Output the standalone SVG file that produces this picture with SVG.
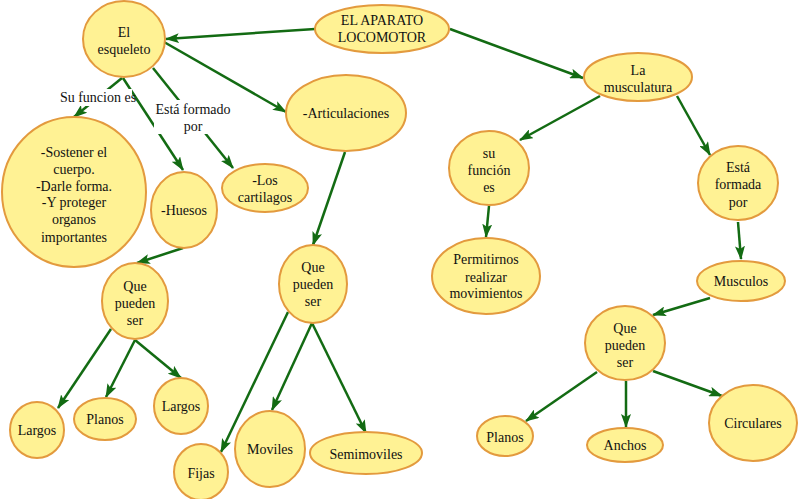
<svg xmlns="http://www.w3.org/2000/svg" width="798" height="499" viewBox="0 0 798 499">
<defs>
<style>
.n{fill:#FFF294;stroke:#E39A3E;stroke-width:2}
.t{font-family:'Liberation Serif','DejaVu Serif',serif;font-size:14px;fill:#111;text-anchor:middle}
.c line{stroke:#136B13;stroke-width:2.5}
.lb{fill:#fff}
</style>
<marker id="a" viewBox="0 0 14 10" refX="13" refY="5" markerWidth="14" markerHeight="10" markerUnits="userSpaceOnUse" orient="auto">
<path d="M0,0 L14,5 L0,10 L3,5 Z" fill="#136B13"/>
</marker>
</defs>
<rect width="798" height="499" fill="#fff"/>
<g id="connectors" class="c">
<line x1="315" y1="29" x2="166" y2="39" marker-end="url(#a)"/>
<line x1="450" y1="29" x2="583" y2="78" marker-end="url(#a)"/>
<line x1="164" y1="42" x2="286" y2="112" marker-end="url(#a)"/>
<line x1="122" y1="78" x2="74" y2="117" marker-end="url(#a)"/>
<line x1="123" y1="78" x2="183" y2="170" marker-end="url(#a)"/>
<line x1="153" y1="68" x2="233" y2="168" marker-end="url(#a)"/>
<line x1="345" y1="152" x2="313" y2="245" marker-end="url(#a)"/>
<line x1="183" y1="248" x2="137" y2="263" marker-end="url(#a)"/>
<line x1="111" y1="329" x2="58" y2="408" marker-end="url(#a)"/>
<line x1="135" y1="340" x2="106" y2="397" marker-end="url(#a)"/>
<line x1="135" y1="340" x2="181" y2="378" marker-end="url(#a)"/>
<line x1="288" y1="312" x2="221" y2="452" marker-end="url(#a)"/>
<line x1="312" y1="323" x2="272" y2="410" marker-end="url(#a)"/>
<line x1="312" y1="323" x2="366" y2="433" marker-end="url(#a)"/>
<line x1="600" y1="96" x2="520" y2="140" marker-end="url(#a)"/>
<line x1="677" y1="96" x2="710" y2="155" marker-end="url(#a)"/>
<line x1="489" y1="206" x2="486" y2="237" marker-end="url(#a)"/>
<line x1="738" y1="222" x2="741" y2="259" marker-end="url(#a)"/>
<line x1="710" y1="298" x2="653" y2="315" marker-end="url(#a)"/>
<line x1="597" y1="372" x2="526" y2="421" marker-end="url(#a)"/>
<line x1="626" y1="381" x2="626" y2="427" marker-end="url(#a)"/>
<line x1="653" y1="371" x2="722" y2="396" marker-end="url(#a)"/>
</g>
<g id="label-su-funcion">
<rect class="lb" x="58" y="89" width="74" height="17"/>
<text class="t" x="98" y="102">Su funcion es</text>
</g>
<g id="label-formado">
<rect class="lb" x="154" y="100" width="78" height="34"/>
<text class="t" x="193" y="114">Está formado</text>
<text class="t" x="193" y="131">por</text>
</g>
<g id="n-locomotor"><ellipse class="n" cx="382" cy="29" rx="67" ry="24"/><text class="t" x="382" y="25">EL APARATO</text><text class="t" x="382" y="42">LOCOMOTOR</text></g>
<g id="n-esqueleto"><ellipse class="n" cx="124" cy="39" rx="41" ry="38"/><text class="t" x="124" y="37">El</text><text class="t" x="124" y="54">esqueleto</text></g>
<g id="n-articulaciones"><ellipse class="n" cx="346" cy="113" rx="60" ry="38"/><text class="t" x="346" y="118">-Articulaciones</text></g>
<g id="n-sostener"><ellipse class="n" cx="74" cy="192" rx="72" ry="75"/><text class="t" x="74" y="157">-Sostener el</text><text class="t" x="74" y="174">cuerpo.</text><text class="t" x="74" y="191">-Darle forma.</text><text class="t" x="74" y="207">-Y proteger</text><text class="t" x="74" y="224">organos</text><text class="t" x="74" y="242">importantes</text></g>
<g id="n-huesos"><ellipse class="n" cx="184" cy="210" rx="33" ry="38"/><text class="t" x="184" y="215">-Huesos</text></g>
<g id="n-cartilagos"><ellipse class="n" cx="265" cy="188" rx="43" ry="24"/><text class="t" x="265" y="185">-Los</text><text class="t" x="265" y="202">cartilagos</text></g>
<g id="n-qps-left"><ellipse class="n" cx="135" cy="301" rx="33" ry="38"/><text class="t" x="135" y="291">Que</text><text class="t" x="135" y="308">pueden</text><text class="t" x="135" y="325">ser</text></g>
<g id="n-largos1"><ellipse class="n" cx="37" cy="430" rx="27" ry="28"/><text class="t" x="37" y="435">Largos</text></g>
<g id="n-planos1"><ellipse class="n" cx="105" cy="419" rx="31" ry="21"/><text class="t" x="105" y="424">Planos</text></g>
<g id="n-largos2"><ellipse class="n" cx="181" cy="406" rx="27" ry="28"/><text class="t" x="181" y="411">Largos</text></g>
<g id="n-qps-mid"><ellipse class="n" cx="313" cy="284" rx="34" ry="39"/><text class="t" x="313" y="272">Que</text><text class="t" x="313" y="289">pueden</text><text class="t" x="313" y="306">ser</text></g>
<g id="n-fijas"><ellipse class="n" cx="201" cy="472" rx="27" ry="28"/><text class="t" x="201" y="478">Fijas</text></g>
<g id="n-moviles"><ellipse class="n" cx="270" cy="449" rx="35" ry="38"/><text class="t" x="270" y="454">Moviles</text></g>
<g id="n-semimoviles"><ellipse class="n" cx="366" cy="453" rx="56" ry="21"/><text class="t" x="366" y="459">Semimoviles</text></g>
<g id="n-musculatura"><ellipse class="n" cx="638" cy="77" rx="54" ry="24"/><text class="t" x="638" y="75">La</text><text class="t" x="638" y="92">musculatura</text></g>
<g id="n-sufuncion"><ellipse class="n" cx="489" cy="168" rx="40" ry="37"/><text class="t" x="489" y="158">su</text><text class="t" x="489" y="175">función</text><text class="t" x="489" y="192">es</text></g>
<g id="n-formada"><ellipse class="n" cx="738" cy="183" rx="40" ry="37"/><text class="t" x="738" y="172">Está</text><text class="t" x="738" y="189">formada</text><text class="t" x="738" y="207">por</text></g>
<g id="n-permitirnos"><ellipse class="n" cx="486" cy="276" rx="54" ry="38"/><text class="t" x="486" y="264">Permitirnos</text><text class="t" x="486" y="282">realizar</text><text class="t" x="486" y="298">movimientos</text></g>
<g id="n-musculos"><ellipse class="n" cx="741" cy="281" rx="44" ry="20"/><text class="t" x="741" y="286">Musculos</text></g>
<g id="n-qps-right"><ellipse class="n" cx="625" cy="343" rx="40" ry="37"/><text class="t" x="625" y="333">Que</text><text class="t" x="625" y="350">pueden</text><text class="t" x="625" y="367">ser</text></g>
<g id="n-planos2"><ellipse class="n" cx="505" cy="436" rx="28" ry="20"/><text class="t" x="505" y="442">Planos</text></g>
<g id="n-anchos"><ellipse class="n" cx="625" cy="445" rx="38" ry="17"/><text class="t" x="625" y="450">Anchos</text></g>
<g id="n-circulares"><ellipse class="n" cx="753" cy="423" rx="44" ry="38"/><text class="t" x="753" y="428">Circulares</text></g>
</svg>
